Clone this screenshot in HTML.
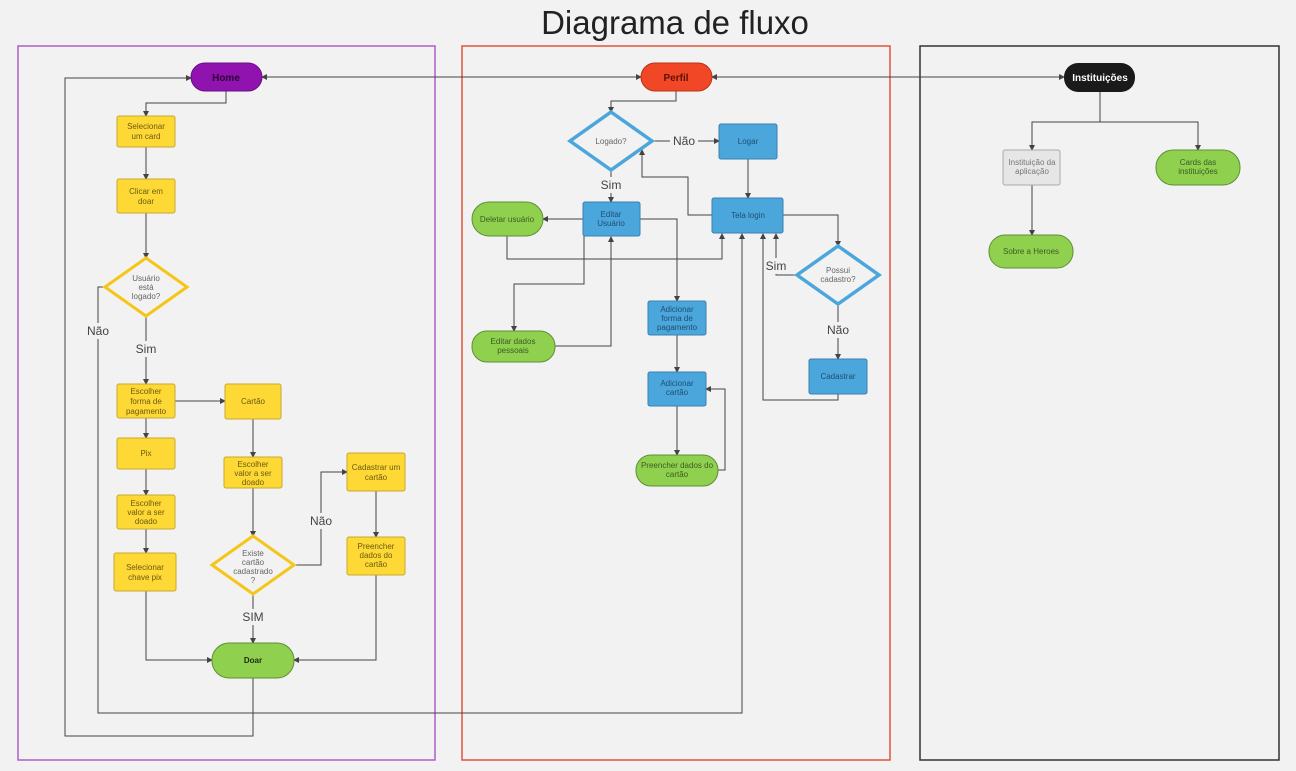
<!DOCTYPE html>
<html><head><meta charset="utf-8"><style>
html,body{margin:0;padding:0;background:#f2f2f2;}
svg{display:block;font-family:"Liberation Sans",sans-serif;}
.t{font-size:8px;text-anchor:middle;}
.y{fill:#fed935;stroke:#c7a92f;stroke-width:1;}
.yt{fill:#6b5a12;}
.b{fill:#4ba6dc;stroke:#3a80b0;stroke-width:1;}
.bt{fill:#1e4e72;}
.g{fill:#8fd14f;stroke:#5f8e35;stroke-width:1;}
.gt{fill:#3c5a22;}
.c{fill:none;stroke:#444;stroke-width:1;marker-end:url(#a);}
.n{fill:none;stroke:#444;stroke-width:1;}
.l{font-size:12px;fill:#444;text-anchor:middle;}
</style></head><body>
<svg width="1296" height="771" viewBox="0 0 1296 771">
<defs><marker id="a" markerWidth="6" markerHeight="6" refX="5" refY="3" orient="auto"><path d="M0,0 L6,3 L0,6 z" fill="#444"/></marker>
<marker id="s" markerWidth="6" markerHeight="6" refX="1" refY="3" orient="auto"><path d="M6,0 L0,3 L6,6 z" fill="#444"/></marker></defs>
<text x="675" y="34" font-size="33" text-anchor="middle" fill="#222">Diagrama de fluxo</text>
<rect x="18" y="46" width="417" height="714" fill="none" stroke="#b05cc7" stroke-width="1.5"/>
<rect x="462" y="46" width="428" height="714" fill="none" stroke="#e0553f" stroke-width="1.5"/>
<rect x="920" y="46" width="359" height="714" fill="none" stroke="#333" stroke-width="1.5"/>

<!-- connectors left -->
<path class="c" d="M226,91 V103 H146 V116"/>
<path class="c" d="M146,147 V179"/>
<path class="c" d="M146,213 V258"/>
<path class="c" d="M146,316 V384"/>
<path class="c" d="M175,401 H225"/>
<path class="c" d="M146,418 V438"/>
<path class="c" d="M146,469 V495"/>
<path class="c" d="M146,529 V553"/>
<path class="c" d="M146,591 V660 H212"/>
<path class="c" d="M253,419 V457"/>
<path class="c" d="M253,488 V536"/>
<path class="c" d="M253,594 V643"/>
<path class="c" d="M294,565 H321 V472 H347"/>
<path class="c" d="M376,491 V537"/>
<path class="c" d="M376,575 V660 H294"/>
<path class="c" d="M253,678 V736 H65 V78 H191"/>
<path class="c" d="M105,287 H98 V713 H742 V234"/>
<path class="n" d="M262,77 H641" marker-start="url(#s)" marker-end="url(#a)"/>
<path class="n" d="M712,77 H1064" marker-start="url(#s)" marker-end="url(#a)"/>

<!-- connectors middle -->
<path class="c" d="M676,91 V101 H611 V112"/>
<path class="c" d="M652,141 H719"/>
<path class="c" d="M748,159 V198"/>
<path class="c" d="M712,215 H688 V177 H642 V150"/>
<path class="c" d="M611,170 V202"/>
<path class="c" d="M583,219 H543"/>
<path class="c" d="M507,236 V259 H722 V234"/>
<path class="c" d="M584,236 V284 H514 V331"/>
<path class="c" d="M555,346 H611 V237"/>
<path class="c" d="M640,219 H677 V301"/>
<path class="c" d="M677,335 V372"/>
<path class="c" d="M677,406 V455"/>
<path class="c" d="M718,470 H725 V389 H706"/>
<path class="c" d="M783,215 H838 V246"/>
<path class="c" d="M797,275 H776 V234"/>
<path class="c" d="M838,304 V359"/>
<path class="c" d="M838,394 V400 H763 V234"/>

<!-- connectors right -->
<path class="c" d="M1100,92 V122 H1032 V150"/>
<path class="c" d="M1100,122 H1198 V150"/>
<path class="c" d="M1032,185 V235"/>

<!-- labels -->
<rect x="130" y="341" width="32" height="16" fill="#f2f2f2"/><text class="l" x="146" y="353">Sim</text>
<rect x="84" y="323" width="28" height="16" fill="#f2f2f2"/><text class="l" x="98" y="335">Não</text>
<rect x="240" y="609" width="26" height="16" fill="#f2f2f2"/><text class="l" x="253" y="621">SIM</text>
<rect x="308" y="513" width="28" height="16" fill="#f2f2f2"/><text class="l" x="321" y="525">Não</text>
<rect x="670" y="133" width="28" height="16" fill="#f2f2f2"/><text class="l" x="684" y="145">Não</text>
<rect x="597" y="177" width="28" height="16" fill="#f2f2f2"/><text class="l" x="611" y="189">Sim</text>
<rect x="764" y="258" width="24" height="16" fill="#f2f2f2"/><text class="l" x="776" y="270">Sim</text>
<rect x="824" y="322" width="28" height="16" fill="#f2f2f2"/><text class="l" x="838" y="334">Não</text>

<!-- left nodes -->
<rect x="191" y="63" width="71" height="28" rx="14" fill="#9013b0" stroke="#6a0d85"/>
<text x="226" y="81" font-size="10" font-weight="bold" text-anchor="middle" fill="#2a0535">Home</text>
<rect class="y" x="117" y="116" width="58" height="31" rx="2"/><text class="t yt" x="146" y="129">Selecionar</text><text class="t yt" x="146" y="139">um card</text>
<rect class="y" x="117" y="179" width="58" height="34" rx="2"/><text class="t yt" x="146" y="194">Clicar em</text><text class="t yt" x="146" y="204">doar</text>
<polygon points="146,258 187,287 146,316 105,287" fill="#f2f2f2" stroke="#f5c518" stroke-width="3"/>
<text class="t" fill="#666" x="146" y="281">Usuário</text><text class="t" fill="#666" x="146" y="290">está</text><text class="t" fill="#666" x="146" y="299">logado?</text>
<rect class="y" x="117" y="384" width="58" height="34" rx="2"/><text class="t yt" x="146" y="394">Escolher</text><text class="t yt" x="146" y="404">forma de</text><text class="t yt" x="146" y="414">pagamento</text>
<rect class="y" x="225" y="384" width="56" height="35" rx="2"/><text class="t yt" x="253" y="404">Cartão</text>
<rect class="y" x="117" y="438" width="58" height="31" rx="2"/><text class="t yt" x="146" y="456">Pix</text>
<rect class="y" x="117" y="495" width="58" height="34" rx="2"/><text class="t yt" x="146" y="506">Escolher</text><text class="t yt" x="146" y="515">valor a ser</text><text class="t yt" x="146" y="524">doado</text>
<rect class="y" x="114" y="553" width="62" height="38" rx="2"/><text class="t yt" x="145" y="570">Selecionar</text><text class="t yt" x="145" y="580">chave pix</text>
<rect class="y" x="224" y="457" width="58" height="31" rx="2"/><text class="t yt" x="253" y="467">Escolher</text><text class="t yt" x="253" y="476">valor a ser</text><text class="t yt" x="253" y="485">doado</text>
<polygon points="253,536 294,565 253,594 212,565" fill="#f2f2f2" stroke="#f5c518" stroke-width="3"/>
<text class="t" fill="#666" x="253" y="556">Existe</text><text class="t" fill="#666" x="253" y="565">cartão</text><text class="t" fill="#666" x="253" y="574">cadastrado</text><text class="t" fill="#666" x="253" y="583">?</text>
<rect class="y" x="347" y="453" width="58" height="38" rx="2"/><text class="t yt" x="376" y="470">Cadastrar um</text><text class="t yt" x="376" y="480">cartão</text>
<rect class="y" x="347" y="537" width="58" height="38" rx="2"/><text class="t yt" x="376" y="549">Preencher</text><text class="t yt" x="376" y="558">dados do</text><text class="t yt" x="376" y="567">cartão</text>
<rect class="g" x="212" y="643" width="82" height="35" rx="17"/><text x="253" y="663" font-size="8" font-weight="bold" text-anchor="middle" fill="#1e2a10">Doar</text>

<!-- middle nodes -->
<rect x="641" y="63" width="71" height="28" rx="14" fill="#f24726" stroke="#b83318"/>
<text x="676" y="81" font-size="10" font-weight="bold" text-anchor="middle" fill="#5a1206">Perfil</text>
<polygon points="611,112 652,141 611,170 570,141" fill="#f2f2f2" stroke="#4ba6dc" stroke-width="3.5"/>
<text class="t" fill="#666" x="611" y="144">Logado?</text>
<rect class="b" x="719" y="124" width="58" height="35" rx="2"/><text class="t bt" x="748" y="144">Logar</text>
<rect class="b" x="583" y="202" width="57" height="34" rx="2"/><text class="t bt" x="611" y="217">Editar</text><text class="t bt" x="611" y="226">Usuário</text>
<rect class="b" x="712" y="198" width="71" height="35" rx="2"/><text class="t bt" x="748" y="218">Tela login</text>
<rect class="g" x="472" y="202" width="71" height="34" rx="17"/><text class="t gt" x="507" y="222">Deletar usuário</text>
<polygon points="838,246 879,275 838,304 797,275" fill="#f2f2f2" stroke="#4ba6dc" stroke-width="3.5"/>
<text class="t" fill="#666" x="838" y="273">Possui</text><text class="t" fill="#666" x="838" y="282">cadastro?</text>
<rect class="b" x="809" y="359" width="58" height="35" rx="2"/><text class="t bt" x="838" y="379">Cadastrar</text>
<rect class="b" x="648" y="301" width="58" height="34" rx="2"/><text class="t bt" x="677" y="312">Adicionar</text><text class="t bt" x="677" y="321">forma de</text><text class="t bt" x="677" y="330">pagamento</text>
<rect class="b" x="648" y="372" width="58" height="34" rx="2"/><text class="t bt" x="677" y="386">Adicionar</text><text class="t bt" x="677" y="395">cartão</text>
<rect class="g" x="636" y="455" width="82" height="31" rx="15"/><text class="t gt" x="677" y="468">Preencher dados do</text><text class="t gt" x="677" y="477">cartão</text>
<rect class="g" x="472" y="331" width="83" height="31" rx="15"/><text class="t gt" x="513" y="344">Editar dados</text><text class="t gt" x="513" y="353">pessoais</text>

<!-- right nodes -->
<rect x="1064" y="63" width="71" height="29" rx="14" fill="#1a1a1a"/>
<text x="1100" y="81" font-size="10" font-weight="bold" text-anchor="middle" fill="#fff">Instituições</text>
<rect x="1003" y="150" width="57" height="35" rx="2" fill="#e6e6e6" stroke="#aaa"/><text class="t" fill="#777" x="1032" y="165">Instituição da</text><text class="t" fill="#777" x="1032" y="174">aplicação</text>
<rect class="g" x="1156" y="150" width="84" height="35" rx="17"/><text class="t gt" x="1198" y="165">Cards das</text><text class="t gt" x="1198" y="174">instituições</text>
<rect class="g" x="989" y="235" width="84" height="33" rx="16"/><text class="t gt" x="1031" y="254">Sobre a Heroes</text>
</svg>
</body></html>
